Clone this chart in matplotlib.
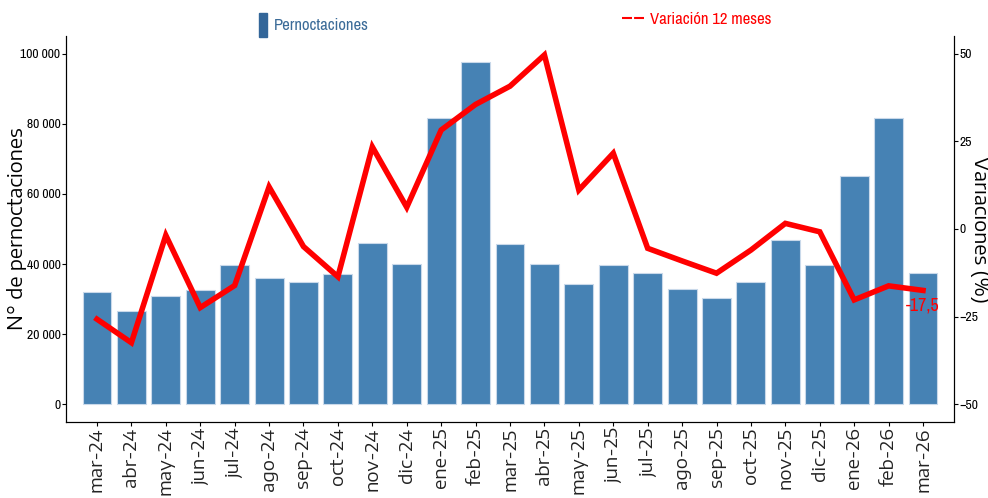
import matplotlib
matplotlib.use("Agg")
import matplotlib.pyplot as plt
from matplotlib.patches import Patch
from matplotlib.lines import Line2D
from matplotlib.ticker import FuncFormatter
import logging

logging.getLogger("matplotlib.font_manager").setLevel(logging.ERROR)

months = ["mar-24", "abr-24", "may-24", "jun-24", "jul-24", "ago-24", "sep-24",
          "oct-24", "nov-24", "dic-24", "ene-25", "feb-25", "mar-25", "abr-25",
          "may-25", "jun-25", "jul-25", "ago-25", "sep-25", "oct-25", "nov-25",
          "dic-25", "ene-26", "feb-26", "mar-26"]
pernoctaciones = [32100, 26600, 30800, 32700, 39700, 36100, 34800, 37200, 45900,
                  39900, 81700, 97500, 45600, 40000, 34400, 39800, 37500, 32900,
                  30400, 35000, 46800, 39700, 65200, 81700, 37400]
variacion = [-25.7, -32.4, -1.8, -22.4, -16.1, 12.0, -5.0, -13.6, 23.4, 6.2,
             28.2, 35.5, 40.7, 49.6, 11.1, 21.6, -5.5, -9.1, -12.6, -6.0, 1.6,
             -0.8, -20.2, -16.2, -17.5]

# horizontal texts look squeezed, vertical ones stretched in the reference
NARROW = ["Archivo Narrow", "Roboto Condensed", "PT Sans Narrow", "DejaVu Sans"]
WIDE = ["Encode Sans Semi Expanded", "DejaVu Sans"]
BAR_COLOR = "#4682b4"

fig = plt.figure(figsize=(9.88, 4.98), dpi=100)
ax = fig.add_axes([66 / 988, 76 / 498, 888 / 988, 386 / 498])
ax2 = ax.twinx()

x = list(range(len(months)))
ax.bar(x, pernoctaciones, width=0.84, color=BAR_COLOR, edgecolor="#c9d9ea", linewidth=0.8)
ax2.plot(x, variacion, color="#ff0000", lw=4, solid_joinstyle="miter")
ax2.annotate(f"{variacion[-1]:.1f}".replace(".", ","), (x[-1], variacion[-1]),
             xytext=(0, -5), textcoords="offset points", ha="center", va="top",
             color="#ff0000", fontsize=13, family=NARROW)

ax.set_xlim(-0.9, len(months) - 0.1)
ax.set_ylim(-5000, 105000)
ax2.set_ylim(-55, 55)
ax.set_yticks([0, 20000, 40000, 60000, 80000, 100000])
ax2.set_yticks([-50, -25, 0, 25, 50])
ax.yaxis.set_major_formatter(FuncFormatter(lambda v, p: f"{int(v):,}".replace(",", " ")))

ax.set_xticks(x)
ax.set_xticklabels(months, rotation=90, fontsize=13.5, family=WIDE, color="#222222")
for lab in ax.get_yticklabels() + ax2.get_yticklabels():
    lab.set_family(NARROW)
    lab.set_fontsize(9.8)

ax.set_ylabel("N° de pernoctaciones", fontsize=14.5, family=WIDE, va="center")
ax.yaxis.set_label_coords(-0.055, 0.5)
ax2.set_ylabel("Variaciones (%)", fontsize=14.5, family=WIDE, rotation=-90, va="center")
ax2.yaxis.set_label_coords(1.029, 0.5)

for a in (ax, ax2):
    a.spines["top"].set_visible(False)
    a.tick_params(length=3, width=0.8, pad=1)

fig.legend(handles=[Patch(color="#336699")], labels=["Pernoctaciones"],
           loc="center", bbox_to_anchor=(314 / 988, 1 - 25 / 498), frameon=False,
           handlelength=0.45, handleheight=1.76, handletextpad=0.4,
           labelcolor="#3b6b98", prop={"family": NARROW, "size": 12})
fig.legend(handles=[Line2D([], [], color="#ff0000", lw=1.5, ls=(0, (4.8, 1)))],
           labels=["Variación 12 meses"],
           loc="center", bbox_to_anchor=(697 / 988, 1 - 19 / 498), frameon=False,
           handlelength=1.32, handletextpad=0.35,
           labelcolor="#ff0000", prop={"family": NARROW, "size": 12})

fig.savefig("out.png", dpi=100)
